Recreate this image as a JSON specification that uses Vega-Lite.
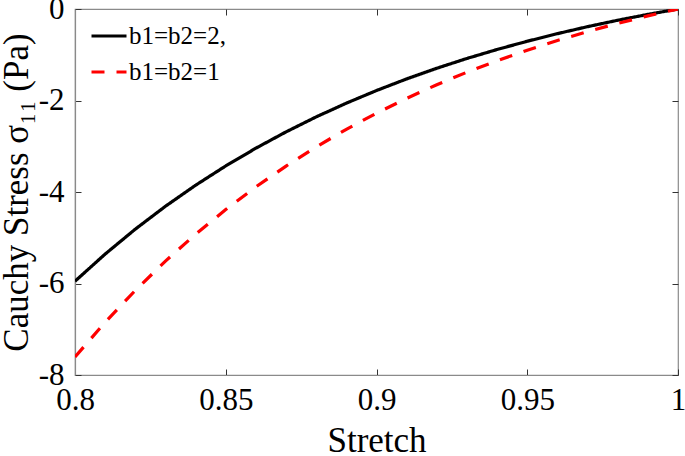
{
  "$schema": "https://vega.github.io/schema/vega-lite/v6.json",
  "width": 603,
  "height": 366,
  "autosize": {"type": "none"},
  "padding": {"left": 75, "top": 9, "right": 7, "bottom": 81},
  "background": "white",
  "config": {
    "view": {"stroke": "#8a8a8a", "strokeWidth": 1.2},
    "font": "Liberation Serif",
    "axis": {
      "grid": false,
      "domainColor": "#8a8a8a",
      "domainWidth": 1.2,
      "tickColor": "#333333",
      "tickSize": -6,
      "tickWidth": 1,
      "labelFlush": false,
      "labelFont": "Liberation Serif",
      "labelFontSize": 31,
      "labelColor": "#000000",
      "titleFont": "Liberation Serif",
      "titleFontSize": 35,
      "titleFontWeight": "normal",
      "titleColor": "#000000"
    }
  },
  "data": {
    "values": [
      {"stretch": 0.80, "stress": -5.950, "series": "b1=b2=2,"},
      {"stretch": 0.81, "stress": -5.357, "series": "b1=b2=2,"},
      {"stretch": 0.82, "stress": -4.812, "series": "b1=b2=2,"},
      {"stretch": 0.83, "stress": -4.312, "series": "b1=b2=2,"},
      {"stretch": 0.84, "stress": -3.852, "series": "b1=b2=2,"},
      {"stretch": 0.85, "stress": -3.430, "series": "b1=b2=2,"},
      {"stretch": 0.86, "stress": -3.042, "series": "b1=b2=2,"},
      {"stretch": 0.87, "stress": -2.686, "series": "b1=b2=2,"},
      {"stretch": 0.88, "stress": -2.358, "series": "b1=b2=2,"},
      {"stretch": 0.89, "stress": -2.058, "series": "b1=b2=2,"},
      {"stretch": 0.90, "stress": -1.782, "series": "b1=b2=2,"},
      {"stretch": 0.91, "stress": -1.528, "series": "b1=b2=2,"},
      {"stretch": 0.92, "stress": -1.295, "series": "b1=b2=2,"},
      {"stretch": 0.93, "stress": -1.081, "series": "b1=b2=2,"},
      {"stretch": 0.94, "stress": -0.885, "series": "b1=b2=2,"},
      {"stretch": 0.95, "stress": -0.705, "series": "b1=b2=2,"},
      {"stretch": 0.96, "stress": -0.539, "series": "b1=b2=2,"},
      {"stretch": 0.97, "stress": -0.386, "series": "b1=b2=2,"},
      {"stretch": 0.98, "stress": -0.246, "series": "b1=b2=2,"},
      {"stretch": 0.99, "stress": -0.118, "series": "b1=b2=2,"},
      {"stretch": 1.00, "stress": 0.0, "series": "b1=b2=2,"},
      {"stretch": 0.80, "stress": -7.606, "series": "b1=b2=1"},
      {"stretch": 0.81, "stress": -6.847, "series": "b1=b2=1"},
      {"stretch": 0.82, "stress": -6.151, "series": "b1=b2=1"},
      {"stretch": 0.83, "stress": -5.511, "series": "b1=b2=1"},
      {"stretch": 0.84, "stress": -4.924, "series": "b1=b2=1"},
      {"stretch": 0.85, "stress": -4.384, "series": "b1=b2=1"},
      {"stretch": 0.86, "stress": -3.888, "series": "b1=b2=1"},
      {"stretch": 0.87, "stress": -3.433, "series": "b1=b2=1"},
      {"stretch": 0.88, "stress": -3.014, "series": "b1=b2=1"},
      {"stretch": 0.89, "stress": -2.630, "series": "b1=b2=1"},
      {"stretch": 0.90, "stress": -2.277, "series": "b1=b2=1"},
      {"stretch": 0.91, "stress": -1.953, "series": "b1=b2=1"},
      {"stretch": 0.92, "stress": -1.654, "series": "b1=b2=1"},
      {"stretch": 0.93, "stress": -1.382, "series": "b1=b2=1"},
      {"stretch": 0.94, "stress": -1.131, "series": "b1=b2=1"},
      {"stretch": 0.95, "stress": -0.900, "series": "b1=b2=1"},
      {"stretch": 0.96, "stress": -0.688, "series": "b1=b2=1"},
      {"stretch": 0.97, "stress": -0.494, "series": "b1=b2=1"},
      {"stretch": 0.98, "stress": -0.315, "series": "b1=b2=1"},
      {"stretch": 0.99, "stress": -0.151, "series": "b1=b2=1"},
      {"stretch": 1.00, "stress": 0.0, "series": "b1=b2=1"}
    ]
  },
  "layer": [
    {
      "mark": {"type": "line", "strokeWidth": 3.2, "clip": true},
      "encoding": {
        "x": {
          "field": "stretch", "type": "quantitative",
          "scale": {"domain": [0.8, 1], "nice": false, "zero": false},
          "axis": {
            "values": [0.8, 0.85, 0.9, 0.95, 1],
            "labelExpr": "'' + datum.value",
            "labelPadding": 16,
            "title": "Stretch",
            "titlePadding": 8
          }
        },
        "y": {
          "field": "stress", "type": "quantitative",
          "scale": {"domain": [-8, 0], "nice": false, "zero": false},
          "axis": {
            "values": [-8, -6, -4, -2, 0],
            "labelExpr": "'' + datum.value",
            "labelPadding": 17,
            "title": "Cauchy Stress σ₁₁ (Pa)",
            "titlePadding": 4
          }
        },
        "color": {
          "field": "series", "type": "nominal",
          "scale": {"domain": ["b1=b2=2,", "b1=b2=1"], "range": ["#000000", "#ff0000"]},
          "legend": {
            "title": null,
            "orient": "none",
            "legendX": 15,
            "legendY": 8,
            "padding": 0,
            "symbolType": "stroke",
            "symbolSize": 1225,
            "symbolStrokeWidth": 3,
            "labelFont": "Liberation Serif",
            "labelFontSize": 25,
            "labelColor": "#000000",
            "labelOffset": 1,
            "rowPadding": 4
          }
        },
        "strokeDash": {
          "field": "series", "type": "nominal",
          "scale": {"domain": ["b1=b2=2,", "b1=b2=1"], "range": [[1, 0], [13, 12]]},
          "legend": null
        }
      }
    },
    {
      "mark": {"type": "line", "opacity": 0},
      "encoding": {
        "x": {
          "field": "stretch", "type": "quantitative",
          "axis": {
            "orient": "top",
            "values": [0.8, 0.85, 0.9, 0.95, 1],
            "labels": false,
            "domain": false,
            "title": null
          }
        },
        "y": {
          "field": "stress", "type": "quantitative",
          "axis": {
            "orient": "right",
            "values": [-8, -6, -4, -2, 0],
            "labels": false,
            "domain": false,
            "title": null
          }
        },
        "detail": {"field": "series"}
      }
    }
  ],
  "resolve": {"axis": {"x": "independent", "y": "independent"}}
}
